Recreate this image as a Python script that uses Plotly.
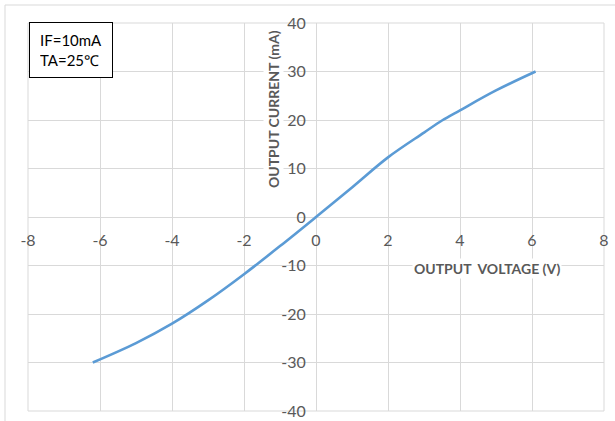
import plotly.graph_objects as go

voltage = [-6.2, -5.0, -4.0, -3.0, -2.0, -1.0, 0.0, 1.0, 2.0, 3.0, 3.5, 4.0, 5.0, 6.1]
current = [-30.0, -26.0, -22.0, -17.2, -11.8, -6.0, 0.0, 6.1, 12.3, 17.4, 19.9, 22.0, 26.1, 30.0]

x_ticks = [-8, -6, -4, -2, 0, 2, 4, 6, 8]
y_ticks = [-40, -30, -20, -10, 0, 10, 20, 30, 40]

FONT = "Lato"
GRID = "#d9d9d9"
TXT = "#595959"

fig = go.Figure()
fig.add_trace(go.Scatter(x=voltage, y=current, mode="lines", line=dict(color="#5b9bd5", width=2.6, shape="spline"),
                         hoverinfo="skip", showlegend=False))

fig.update_layout(
    width=615, height=421,
    margin=dict(l=28, r=11, t=23, b=10, autoexpand=False),
    paper_bgcolor="white", plot_bgcolor="white",
    font=dict(family=FONT, color=TXT, size=13),
    xaxis=dict(range=[-8, 8], tickvals=x_ticks, ticktext=[str(v) for v in x_ticks], automargin=False,
               showgrid=True, gridcolor=GRID, gridwidth=1, zeroline=True, zerolinecolor=GRID, zerolinewidth=1,
               anchor="free", position=0.5, ticks="outside", ticklen=9, tickcolor="rgba(0,0,0,0)",
               showline=False, tickfont=dict(family=FONT, size=16, color=TXT)),
    yaxis=dict(range=[-40, 40], tickvals=y_ticks, ticktext=[str(v) for v in y_ticks], automargin=False,
               showgrid=True, gridcolor=GRID, gridwidth=1, zeroline=True, zerolinecolor=GRID, zerolinewidth=1,
               anchor="free", position=0.5, ticks="outside", ticklen=7, tickcolor="rgba(0,0,0,0)",
               showline=False, tickfont=dict(family=FONT, size=16, color=TXT)),
)

# plot-area border (edge gridlines)
fig.add_shape(type="rect", xref="x domain", yref="y domain", x0=0, x1=1, y0=0, y1=1,
              line=dict(color=GRID, width=1), layer="below")
# chart frame
fig.add_shape(type="rect", xref="paper", yref="paper", x0=-23/576, x1=1.05, y0=1 + 18/388, y1=-0.1,
              line=dict(color=GRID, width=1), layer="below")

fig.add_annotation(xref="paper", yref="paper", x=(487 - 28) / 576, y=1 - (268 - 23) / 388,
                   text="<b>OUTPUT  VOLTAGE (V)</b>", showarrow=False, bgcolor="white",
                   font=dict(family=FONT, size=14, color=TXT), xanchor="center", yanchor="middle")
fig.add_annotation(xref="paper", yref="paper", x=(273 - 28) / 576, y=1 - (109 - 23) / 388,
                   text="<b>OUTPUT CURRENT (mA)</b>", showarrow=False, textangle=-90, bgcolor="white",
                   font=dict(family=FONT, size=14, color=TXT), xanchor="center", yanchor="middle")
fig.add_annotation(xref="paper", yref="paper", x=(29 - 28) / 576, y=1 - (22 - 23) / 388,
                   text="IF=10mA<br>TA=25℃", showarrow=False, align="left",
                   xanchor="left", yanchor="top", width=62, height=34, borderpad=10,
                   bordercolor="black", borderwidth=1, bgcolor="white",
                   font=dict(family=FONT, size=15, color="black"))

fig.write_html("out.html")
